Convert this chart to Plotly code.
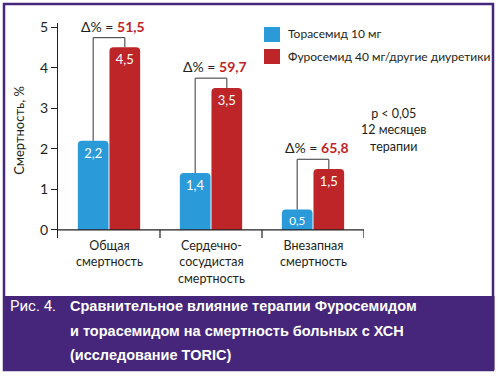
import plotly.graph_objects as go

categories = [["Общая", "смертность"], ["Сердечно-", "сосудистая", "смертность"], ["Внезапная", "смертность"]]
torasemide = [2.2, 1.4, 0.5]
furosemide = [4.5, 3.5, 1.5]
delta_pct = ["51,5", "59,7", "65,8"]
series_names = ["Торасемид 10 мг", "Фуросемид 40 мг/другие диуретики"]
y_ticks = [0, 1, 2, 3, 4, 5]

BLUE = "#2A9AD9"
RED = "#BE2529"
PURPLE = "#45267A"
DARK = "#231F20"
FONT = "Lato"
W, H = 498, 381
L, R, T, B = 58, 364, 23, 238

def px(x):
    return (x - L) / (R - L)

def py(y):
    return (B - y) / (B - T)

fig = go.Figure()
xs = [0, 1, 2]
for vals, col, nm in [(torasemide, BLUE, series_names[0]), (furosemide, RED, series_names[1])]:
    fig.add_trace(go.Bar(x=xs, y=vals, marker=dict(color=col, line=dict(width=0)),
                         text=[f"{v:.1f}".replace(".", ",") for v in vals],
                         textposition="inside", insidetextanchor="end", textangle=0,
                         constraintext="none",
                         textfont=dict(color="white", size=13, family=FONT),
                         name=nm, showlegend=False, hoverinfo="skip"))

shapes = []
annotations = []
off = 0.155
for i in range(3):
    top = furosemide[i] + 0.24
    for (x0, x1, y0, y1) in [(i - off, i - off, torasemide[i], top), (i - off, i + off, top, top),
                             (i + off, i + off, top, furosemide[i])]:
        shapes.append(dict(type="line", xref="x", yref="y", x0=x0, x1=x1, y0=y0, y1=y1,
                           line=dict(color="#555555", width=1.2)))
    annotations.append(dict(xref="x", yref="y", x=i + 0.04, y=top + 0.02, yanchor="bottom", showarrow=False,
                            text=f"Δ% = <b><span style='color:{RED}'>{delta_pct[i]}</span></b>",
                            font=dict(size=14, color=DARK, family=FONT)))
    annotations.append(dict(xref="x", yref="paper", x=i, y=py(236), yanchor="top", align="center",
                            showarrow=False, text="<br>".join(categories[i]),
                            font=dict(size=12.5, color=DARK, family=FONT)))

# x axis line and category ticks
shapes.append(dict(type="line", xref="x", yref="y", x0=-0.5, x1=2.5, y0=0, y1=0,
                   line=dict(color=DARK, width=1.2)))
for xt in [0.5, 1.5, 2.5]:
    shapes.append(dict(type="line", xref="x", yref="y", x0=xt, x1=xt, y0=0, y1=-0.2,
                       line=dict(color=DARK, width=1.2)))

# legend
for k, (c, yc) in enumerate([(BLUE, 34), (RED, 56)]):
    shapes.append(dict(type="rect", xref="paper", yref="paper", x0=px(264), x1=px(280),
                       y0=py(yc + 8), y1=py(yc - 7), fillcolor=c, line=dict(width=0)))
    annotations.append(dict(xref="paper", yref="paper", x=px(286), y=py(yc), xanchor="left", yanchor="middle",
                            showarrow=False, text=series_names[k],
                            font=dict(size=12, color=DARK, family=FONT)))

annotations.append(dict(xref="paper", yref="paper", x=px(394), y=py(130), xanchor="center", yanchor="middle",
                        showarrow=False, text="p &lt; 0,05<br>12 месяцев<br>терапии", align="center",
                        font=dict(size=12.5, color=DARK, family=FONT)))

# frame
shapes.append(dict(type="rect", xref="paper", yref="paper", x0=px(4), x1=px(493), y0=py(370), y1=py(4),
                   line=dict(color=PURPLE, width=2.5), fillcolor="rgba(0,0,0,0)", layer="below"))
shapes.append(dict(type="rect", xref="paper", yref="paper", x0=px(3), x1=px(494.5), y0=py(370), y1=py(296),
                   line=dict(width=0), fillcolor=PURPLE))

CAP_FONT = "Liberation Sans, Arial"
annotations.append(dict(xref="paper", yref="paper", x=px(8), y=py(306), xanchor="left", yanchor="middle",
                        showarrow=False, text="Рис. 4.",
                        font=dict(size=15, color="white", family="Roboto")))
cap_lines = ["Сравнительное влияние терапии Фуросемидом",
             "и торасемидом на смертность больных с ХСН",
             "(исследование TORIC)"]
for j, (line, yy) in enumerate(zip(cap_lines, [306, 331, 355])):
    annotations.append(dict(xref="paper", yref="paper", x=px(68), y=py(yy), xanchor="left", yanchor="middle",
                            showarrow=False, text=f"<b>{line}</b>",
                            font=dict(size=14.5, color="white", family=CAP_FONT)))

fig.update_layout(
    width=W, height=H,
    margin=dict(l=L, r=W - R, t=T, b=H - B, pad=0, autoexpand=False),
    paper_bgcolor="white", plot_bgcolor="white",
    barmode="group", bargap=0.38, bargroupgap=0.03,
    barcornerradius=4,
    shapes=shapes, annotations=annotations,
    font=dict(family=FONT, color=DARK),
    xaxis=dict(range=[-0.5, 2.5], showticklabels=False, showline=False, showgrid=False,
               zeroline=False, ticks="", automargin=False),
    yaxis=dict(range=[-0.2, 5.1], tickvals=y_ticks, showline=True, linecolor=DARK, linewidth=1.2,
               ticks="outside", ticklen=6, tickcolor=DARK, showgrid=False, zeroline=False,
               tickfont=dict(size=14, color=DARK), automargin=False,
               title=dict(text="Смертность, %", font=dict(size=13, color=DARK), standoff=12)),
    showlegend=False,
)

fig.write_html("out.html", config={"displayModeBar": False},
               post_script="document.body.style.margin='0';")
